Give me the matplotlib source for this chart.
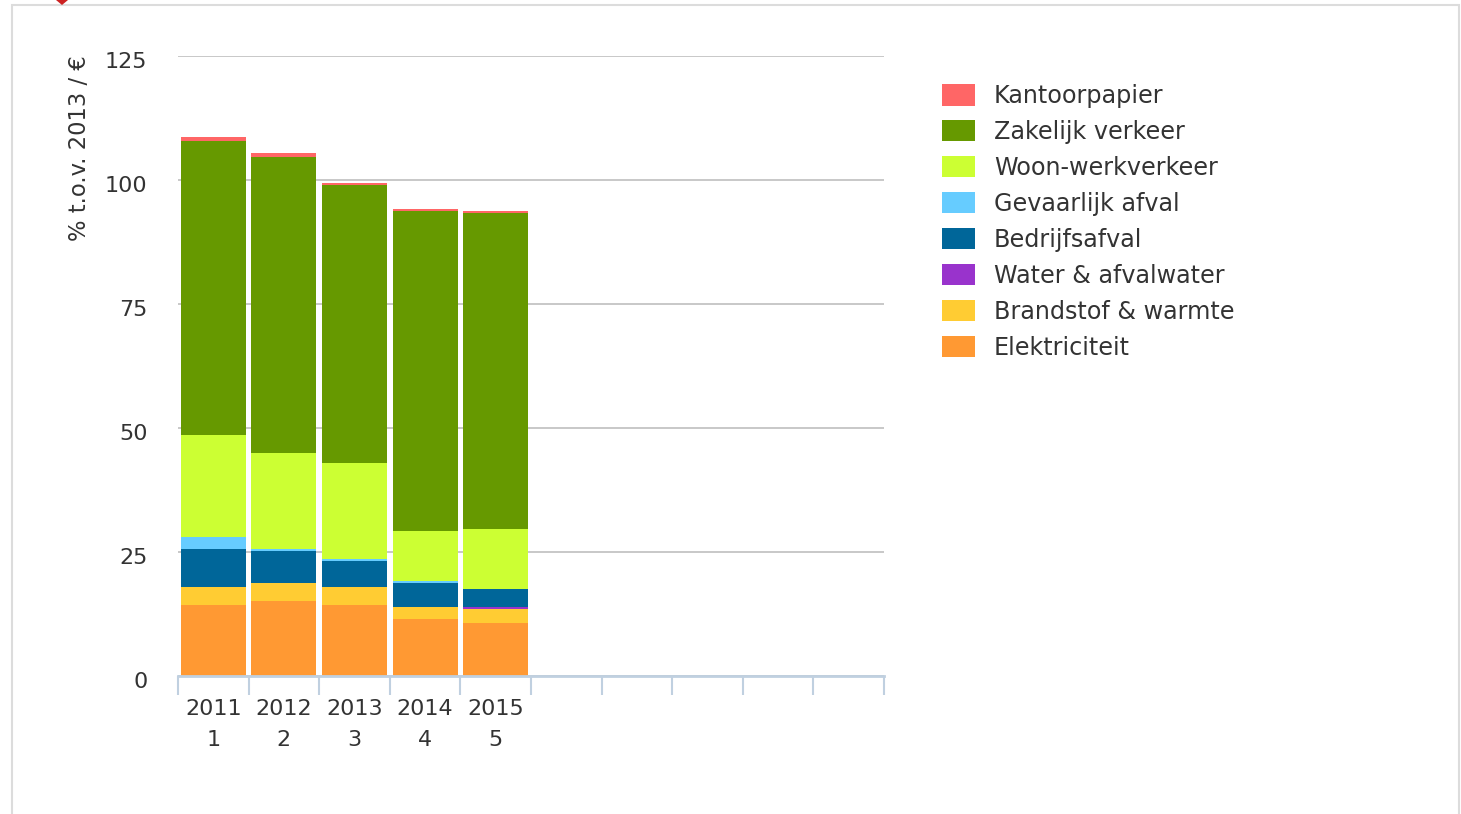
import numpy as np
import matplotlib
matplotlib.use("Agg")
import matplotlib.pyplot as plt
import matplotlib.transforms as mtransforms
from matplotlib.patches import Rectangle, Polygon

# ─── Dados ────────────────────────────────────────────────────────────────────
years   = ["2011", "2012", "2013", "2014", "2015"]
periods = ["1", "2", "3", "4", "5"]
n_slots = 10

elektriciteit = [14.3, 15.1, 14.3, 11.5, 10.7]
brandstof     = [3.6, 3.65, 3.6, 2.4, 2.8]
water         = [0.0, 0.0, 0.0, 0.0, 0.4]
bedrijfsafval = [7.7, 6.45, 5.3, 4.85, 3.6]
gevaarlijk    = [2.4, 0.4, 0.4, 0.4, 0.0]
woon_werk     = [20.6, 19.4, 19.3, 10.05, 12.1]
zakelijk      = [59.3, 59.6, 56.1, 64.5, 63.7]
kantoor       = [0.8, 0.8, 0.4, 0.4, 0.4]

series = [
    ("Elektriciteit",      elektriciteit, "#FF9933"),
    ("Brandstof & warmte", brandstof,     "#FFCC33"),
    ("Water & afvalwater", water,         "#9933CC"),
    ("Bedrijfsafval",      bedrijfsafval, "#006699"),
    ("Gevaarlijk afval",   gevaarlijk,    "#66CCFF"),
    ("Woon-werkverkeer",   woon_werk,     "#CCFF33"),
    ("Zakelijk verkeer",   zakelijk,      "#669900"),
    ("Kantoorpapier",      kantoor,       "#FF6666"),
]

TXT = "#333333"
W, H = 1461, 814

fig = plt.figure(figsize=(W / 100, H / 100), dpi=100)
ax = fig.add_axes([178 / W, 1 - 676 / H, (884 - 178) / W, (676 - 56) / H])

x = np.arange(len(years))
bottom = np.zeros(len(years))
handles = []
for name, vals, color in series:
    vals = np.array(vals, dtype=float)
    h = ax.bar(x, vals, 0.92, bottom=bottom, color=color, label=name,
               linewidth=0, zorder=3)
    handles.append(h)
    bottom += vals

ax.set_xlim(-0.5, n_slots - 0.5)
ax.set_ylim(0, 125)
ax.set_yticks([0, 25, 50, 75, 100, 125])
ax.yaxis.grid(True, color="#C4C4C4", linewidth=1.3, zorder=1)
ax.set_axisbelow(True)

for s in ["top", "right", "left"]:
    ax.spines[s].set_visible(False)
ax.spines["bottom"].set_color("#C0D0E0")
ax.spines["bottom"].set_linewidth(2)
ax.spines["bottom"].set_zorder(4)

ax.tick_params(axis="y", length=0, pad=22, labelsize=16, labelcolor=TXT)
shift = mtransforms.ScaledTranslation(0, -4 / 100, fig.dpi_scale_trans)
for lab in ax.get_yticklabels():
    lab.set_transform(lab.get_transform() + shift)

ax.set_xticks(x)
ax.set_xticklabels([f"{y}\n{p}" for y, p in zip(years, periods)],
                   fontsize=16, color=TXT, linespacing=1.68)
ax.tick_params(axis="x", which="major", length=0, pad=16.5)
ax.set_xticks(np.arange(-0.5, n_slots, 1.0), minor=True)
ax.tick_params(axis="x", which="minor", length=14, width=1.5,
               color="#C0D0E0", direction="out")

fig.text(80 / W, 1 - 55 / H, "% t.o.v. 2013 / €", rotation=90,
         ha="center", va="top", fontsize=16.3, color=TXT)

leg = fig.legend(handles[::-1], [s[0] for s in series][::-1],
                 loc="upper left", bbox_to_anchor=(942 / W, 1 - 84 / H),
                 frameon=False, fontsize=17.2, handlelength=1.38,
                 handleheight=1.0, handletextpad=0.8, labelspacing=0.5,
                 borderpad=0, borderaxespad=0)
for t in leg.get_texts():
    t.set_color(TXT)

# moldura cinza e marcador vermelho
fig.patches.append(Rectangle((12 / W, -0.05), (1459 - 12) / W, 1.05 - 5 / H,
                             transform=fig.transFigure, fill=False,
                             edgecolor="#DCDCDC", linewidth=1.5))
fig.patches.append(Polygon([(56 / W, 1.0), (68 / W, 1.0), (62 / W, 1 - 5 / H)],
                           closed=True, transform=fig.transFigure,
                           facecolor="#CC2222", edgecolor="none"))

plt.savefig("out.png", dpi=100)
plt.close()
